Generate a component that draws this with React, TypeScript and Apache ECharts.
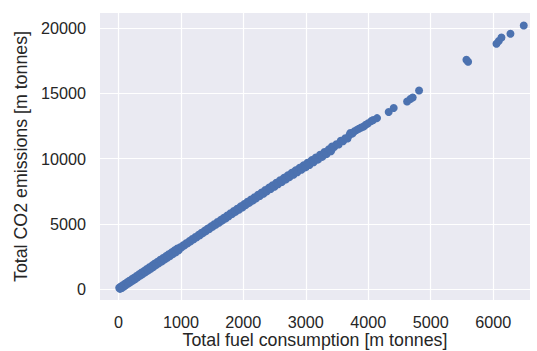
import React, { useEffect, useRef } from "react";
import * as echarts from "echarts";

const fuel: number[] = [
  12, 25, 38, 55, 70, 88, 104, 121, 140, 158, 175, 196, 214, 233, 250, 272, 290, 311, 330, 352,
  371, 390, 412, 433, 455, 474, 496, 518, 540, 560, 583, 604, 627, 648, 671, 692, 716, 738, 760, 783,
  805, 828, 851, 874, 897, 920, 944, 967, 990, 1014, 1038, 1061, 1085, 1110, 1134, 1158, 1183, 1207, 1232, 1256,
  1281, 1306, 1331, 1355, 1381, 1405, 1431, 1456, 1482, 1507, 1533, 1558, 1585, 1610, 1637, 1662, 1689, 1715, 1742, 1768,
  1795, 1821, 1848, 1875, 1902, 1929, 1957, 1984, 2012, 2040, 2067, 2095, 2123, 2151, 2179, 2208, 2236, 2265, 2293, 2322,
  2351, 2380, 2410, 2439, 2468, 2498, 2528, 2558, 2588, 2618, 2648, 2679, 2710, 2741, 2772, 2803, 2835, 2866, 2898, 2930,
  2962, 2995, 3028, 3060, 3094, 3127, 3161, 3195, 3229, 3264, 3299, 3334, 3370, 3405, 3420, 3455, 3490, 3526, 3560, 3598,
  3632, 3668, 3700, 3713, 3745, 3780, 3812, 3850, 3888, 3926, 3960, 4000,
  4050, 4080, 4141, 4327, 4407, 4622, 4675, 4712, 4814, 5572, 5599, 6053, 6090, 6133, 6277, 6490,
];

const co2: number[] = [
  110, 20, 200, 95, 300, 200, 410, 310, 530, 430, 640, 540, 770, 660, 880, 780, 1010, 910, 1140, 1040,
  1270, 1160, 1400, 1290, 1540, 1420, 1680, 1560, 1820, 1700, 1960, 1840, 2100, 1980, 2250, 2120, 2390, 2260, 2530, 2400,
  2680, 2540, 2820, 2690, 2970, 2830, 3120, 2980, 3215, 3210, 3368, 3355, 3520, 3512, 3677, 3660, 3838, 3818, 3996, 3975,
  4155, 4133, 4318, 4290, 4480, 4447, 4642, 4605, 4807, 4768, 4970, 4930, 5140, 5090, 5305, 5252, 5474, 5418, 5645, 5582,
  5816, 5750, 5985, 5920, 6160, 6088, 6338, 6260, 6512, 6435, 6690, 6606, 6870, 6780, 7045, 6955, 7228, 7135, 7408, 7312,
  7590, 7490, 7775, 7672, 7960, 7850, 8148, 8030, 8335, 8212, 8520, 8395, 8712, 8580, 8905, 8766, 9098, 8950, 9290, 9140,
  9480, 9325, 9675, 9515, 9880, 9715, 10085, 9920, 10290, 10130, 10505, 10340, 10720, 10560, 10927, 10880, 11095, 11080, 11360, 11330,
  11560, 11540, 11800, 11954, 11920, 12090, 12180, 12290, 12380, 12460, 12590, 12700,
  12880, 12950, 13100, 13563, 13870, 14375, 14559, 14682, 15218, 17567, 17414, 18800, 19000, 19280, 19563, 20199,
];

const xTicks: number[] = [0, 1000, 2000, 3000, 4000, 5000, 6000];
const yTicks: number[] = [0, 5000, 10000, 15000, 20000];

const xTitle = "Total fuel consumption [m tonnes]";
const yTitle = "Total CO2 emissions [m tonnes]";

export default function App() {
  const ref = useRef<HTMLDivElement>(null);
  useEffect(() => {
    if (!ref.current) return;
    const chart = echarts.init(ref.current, null, { renderer: "svg" });
    const points = fuel.map((f, i) => [f, co2[i]]);
    const font = "'Liberation Sans', Arial, sans-serif";
    const fmt = (v: number) => String(v);
    chart.setOption({
      animation: false,
      grid: {
        left: 100,
        top: 13,
        right: 7,
        bottom: 51,
        show: true,
        backgroundColor: "#EAEAF2",
        borderWidth: 0,
        containLabel: false,
        outerBoundsMode: "none",
      },
      xAxis: {
        type: "value",
        min: -295,
        max: 6590,
        name: xTitle,
        nameLocation: "middle",
        nameGap: 31,
        nameMoveOverlap: false,
        nameTextStyle: { fontSize: 17.8, lineHeight: 18, color: "#262626", fontFamily: font },
        axisLine: { show: false },
        axisTick: { show: false, customValues: xTicks },
        axisLabel: {
          customValues: xTicks,
          formatter: fmt,
          fontSize: 16.2,
          color: "#262626",
          fontFamily: font,
          margin: 14,
        },
        splitLine: { show: true, lineStyle: { color: "#ffffff", width: 1.2 } },
      },
      yAxis: {
        type: "value",
        min: -830,
        max: 21150,
        name: yTitle,
        nameLocation: "middle",
        nameGap: 70,
        nameMoveOverlap: false,
        nameTextStyle: { fontSize: 17.8, lineHeight: 18, color: "#262626", fontFamily: font },
        axisLine: { show: false },
        axisTick: { show: false, customValues: yTicks },
        axisLabel: {
          customValues: yTicks,
          formatter: fmt,
          fontSize: 16.2,
          color: "#262626",
          fontFamily: font,
          margin: 14,
        },
        splitLine: { show: true, lineStyle: { color: "#ffffff", width: 1.2 } },
      },
      series: [
        {
          type: "scatter",
          data: points,
          symbolSize: 8,
          itemStyle: { color: "#4C72B0", opacity: 1 },
        },
      ],
    });
    return () => chart.dispose();
  }, []);
  return (
    <div
      ref={ref}
      style={{ position: "absolute", left: 0, top: 0, width: 537, height: 351 }}
    />
  );
}
